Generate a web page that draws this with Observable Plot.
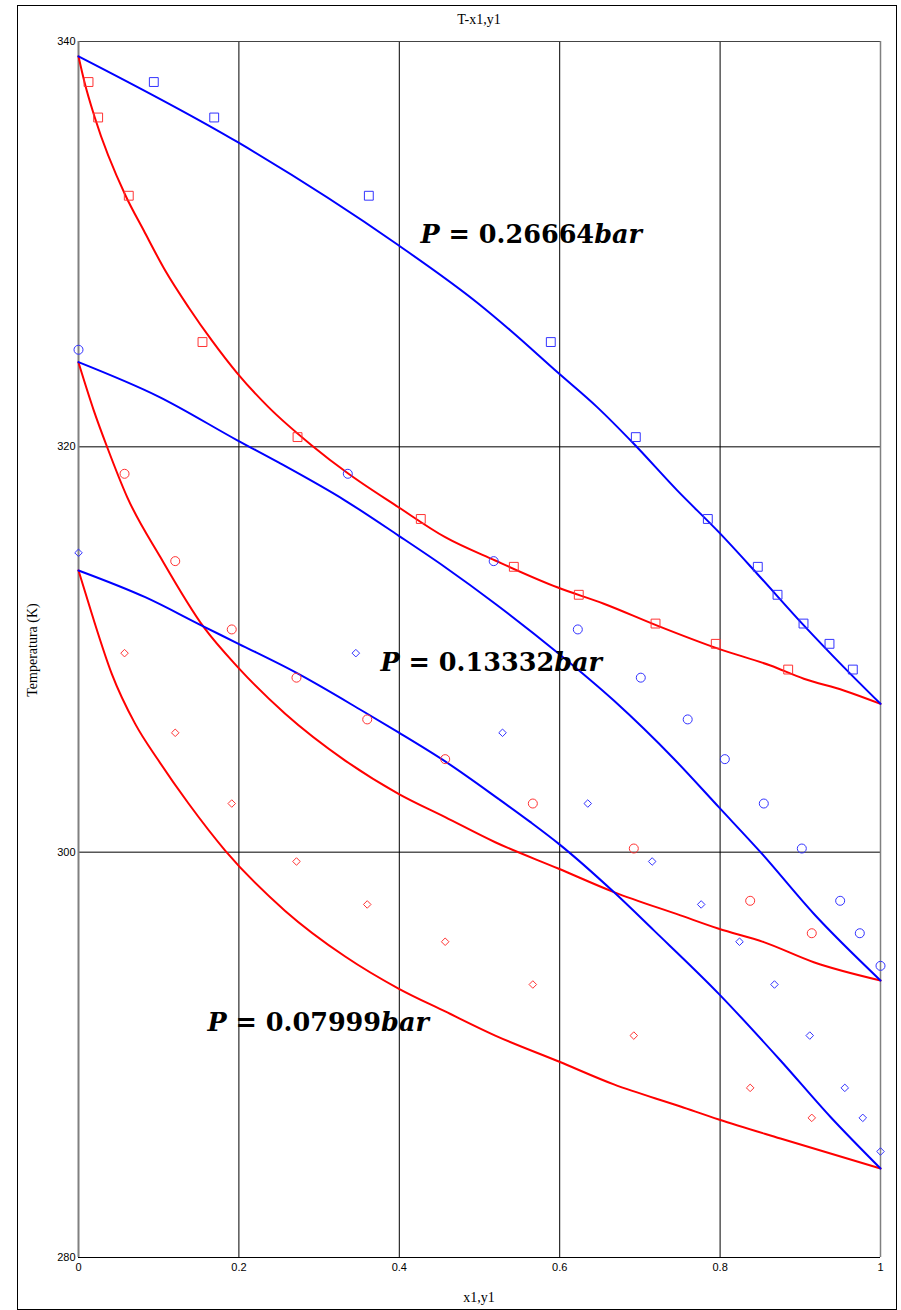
<!DOCTYPE html>
<html><head><meta charset="utf-8">
<script src="https://cdn.jsdelivr.net/npm/d3@7"></script>
<script src="https://cdn.jsdelivr.net/npm/@observablehq/plot@0.6"></script>
<style>
body{margin:0;background:#fff;}
#wrap{position:relative;width:901px;height:1310px;overflow:hidden;background:#fff;}
#frame{position:absolute;left:17px;top:5px;width:880px;height:1305px;border:1px solid #000;box-sizing:border-box;}
.lbl{position:absolute;font:14px "Liberation Serif","Times New Roman",serif;color:#000;white-space:nowrap;}
#title{top:12px;left:78px;width:802px;text-align:center;}
#xlabel{top:1290px;left:78px;width:802px;text-align:center;}
#ylabel{left:33px;top:650px;transform:translate(-50%,-50%) rotate(-90deg);}
#chart{position:absolute;left:0;top:0;}
</style></head><body>
<div id="wrap"><div id="frame"></div><div id="chart"></div>
<div id="title" class="lbl">T-x1,y1</div>
<div id="xlabel" class="lbl">x1,y1</div>
<div id="ylabel" class="lbl">Temperatura (K)</div>
</div>
<script>
// ---------- data ----------
const xTicks = [0, 0.2, 0.4, 0.6, 0.8, 1];
const yTicks = [280, 300, 320, 340];
const gridX = [0.2, 0.4, 0.6, 0.8];
const gridY = [300, 320];
const pressures = ["0.26664", "0.13332", "0.07999"];
const annotX = [0.4264, 0.3766, 0.1608];
const annotT = [330.08, 308.96, 291.2];

// P = 0.26664 bar : experimental (squares)
const sqT  = [338.0, 336.25, 332.39, 325.17, 320.48, 316.44, 314.08, 312.70, 311.28, 310.28, 309.01];
const sqX1 = [0.0125, 0.0245, 0.0627, 0.1546, 0.2731, 0.4268, 0.5428, 0.6238, 0.7195, 0.7946, 0.8849];
const sqY1 = [0.0939, 0.1692, 0.3620, 0.5889, 0.6949, 0.7847, 0.8470, 0.8716, 0.9040, 0.9364, 0.9655];

// P = 0.13332 bar : experimental (circles)
const ciTx = [318.67, 314.36, 310.99, 308.61, 306.55, 304.59, 302.40, 300.18, 297.60, 296.00];
const ciX1 = [0.0574, 0.1206, 0.1911, 0.2718, 0.3600, 0.4572, 0.5665, 0.6924, 0.8375, 0.9143];
const ciTy = [324.79, 318.67, 314.36, 310.99, 308.61, 306.55, 304.59, 302.40, 300.18, 297.60, 296.00, 294.39];
const ciY1 = [0, 0.3358, 0.5177, 0.6226, 0.7011, 0.7596, 0.8059, 0.8545, 0.9019, 0.9497, 0.9742, 1];

// P = 0.07999 bar : experimental (diamonds)
const diTx = [309.82, 305.89, 302.40, 299.54, 297.42, 295.58, 293.47, 290.95, 288.37, 286.89];
const diX1 = [0.0574, 0.1206, 0.1911, 0.2718, 0.3600, 0.4572, 0.5665, 0.6924, 0.8375, 0.9143];
const diTy = [314.77, 309.82, 305.89, 302.40, 299.54, 297.42, 295.58, 293.47, 290.95, 288.37, 286.89, 285.23];
const diY1 = [0, 0.3458, 0.5287, 0.6350, 0.7153, 0.7764, 0.8242, 0.8678, 0.9118, 0.9555, 0.9779, 1];

// model curves (dew = vapour y1, bubble = liquid x1)
const dew1X = [0, 0.1986, 0.3981, 0.4988, 0.5387, 0.5969, 0.6467, 0.6924, 0.7465, 0.7984, 0.8462, 0.9044, 0.9542, 1];
const dew1T = [339.27, 335.03, 329.97, 327.06, 325.74, 323.69, 321.96, 320.15, 317.85, 315.79, 313.74, 311.19, 309.13, 307.32];
const bub1X = [0, 0.0075, 0.0203, 0.0586, 0.0814, 0.1081, 0.1372, 0.1662, 0.1986, 0.2369, 0.2909, 0.3367, 0.3990, 0.4572, 0.5196, 0.5969, 0.6550, 0.7216, 0.7984, 0.8628, 0.9044, 0.9542, 1];
const bub1T = [339.26, 337.99, 336.25, 332.40, 330.67, 328.70, 326.89, 325.25, 323.60, 321.96, 320.07, 318.67, 317.02, 315.54, 314.39, 313.07, 312.26, 311.18, 310.03, 309.21, 308.56, 307.98, 307.32];

const dew2X = [0, 0.0998, 0.1986, 0.2494, 0.3325, 0.3990, 0.4572, 0.5196, 0.5989, 0.6675, 0.7423, 0.7984, 0.8504, 0.9168, 1];
const dew2T = [324.18, 322.48, 320.31, 319.23, 317.35, 315.62, 314.06, 312.26, 309.79, 307.48, 304.61, 302.22, 300.00, 296.96, 293.67];
const bub2X = [0, 0.0191, 0.0358, 0.0607, 0.1022, 0.1562, 0.1986, 0.2577, 0.3325, 0.3990, 0.4572, 0.5196, 0.5989, 0.6675, 0.7506, 0.7984, 0.8545, 0.9168, 1];
const bub2T = [324.16, 321.79, 319.98, 317.52, 314.55, 311.10, 309.13, 306.83, 304.52, 302.88, 301.73, 300.49, 299.18, 298.03, 296.88, 296.22, 295.56, 294.57, 293.67];

const dew3X = [0, 0.0832, 0.1537, 0.1995, 0.2702, 0.3532, 0.3990, 0.4572, 0.5237, 0.5636, 0.5989, 0.6675, 0.7174, 0.7984, 0.8753, 0.9377, 1];
const dew3T = [313.90, 312.58, 311.18, 310.28, 308.88, 306.99, 305.91, 304.48, 302.63, 301.48, 300.41, 298.03, 296.14, 293.01, 289.72, 286.93, 284.39];
const bub3X = [0, 0.0166, 0.0415, 0.0707, 0.0998, 0.1372, 0.1829, 0.2577, 0.3325, 0.3990, 0.4572, 0.5196, 0.5989, 0.6675, 0.7506, 0.7984, 0.8753, 1];
const bub3T = [313.90, 311.76, 308.80, 306.33, 304.52, 302.40, 300.08, 297.10, 294.85, 293.27, 292.14, 290.95, 289.67, 288.54, 287.45, 286.81, 285.87, 284.39];

// ---------- build tables ----------
const rows = (xs, ts) => xs.map((x, i) => ({x, t: ts[i]}));
const annot = pressures.map((p, i) => ({p, x: annotX[i], t: annotT[i]}));

const BLUE = "#0000ff", RED = "#ff0000";
const MBLUE = "#3333ff", MRED = "#ff3333";

const lineOpts = (c) => ({x: "x", y: "t", stroke: c, strokeWidth: 2, curve: "monotone-x"});
const dotOpts = (c, sym, r) => ({x: "x", y: "t", stroke: c, fill: "none", strokeWidth: 1, symbol: sym, r});

const chart = Plot.plot({
  width: 901,
  height: 1310,
  marginLeft: 78,
  marginRight: 21,
  marginTop: 41,
  marginBottom: 53,
  style: {fontFamily: "'Liberation Sans', Arial, sans-serif", fontSize: "11px", background: "transparent", overflow: "visible"},
  x: {domain: [0, 1]},
  y: {domain: [280, 340]},
  marks: [
    Plot.ruleX(gridX, {stroke: "#000", strokeWidth: 1}),
    Plot.ruleY(gridY, {stroke: "#000", strokeWidth: 1}),
    Plot.ruleY([340], {stroke: "#444", strokeWidth: 1}),
    Plot.ruleY([280], {stroke: "#000", strokeWidth: 1}),
    Plot.ruleX([0], {stroke: "#808080", strokeWidth: 2}),
    Plot.ruleX([1], {stroke: "#808080", strokeWidth: 1.5}),
    Plot.axisY({ticks: yTicks, tickSize: 0, tickPadding: 3, label: null, tickFormat: d => String(d)}),
    Plot.axisX({ticks: xTicks, tickSize: 0, tickPadding: 6, label: null, tickFormat: d => String(d)}),

    Plot.line(rows(bub1X, bub1T), lineOpts(RED)),
    Plot.line(rows(dew1X, dew1T), lineOpts(BLUE)),
    Plot.line(rows(bub2X, bub2T), lineOpts(RED)),
    Plot.line(rows(dew2X, dew2T), lineOpts(BLUE)),
    Plot.line(rows(bub3X, bub3T), lineOpts(RED)),
    Plot.line(rows(dew3X, dew3T), lineOpts(BLUE)),

    Plot.dot(rows(sqX1, sqT), dotOpts(MRED, "square", 5)),
    Plot.dot(rows(sqY1, sqT), dotOpts(MBLUE, "square", 5)),
    Plot.dot(rows(ciX1, ciTx), dotOpts(MRED, "circle", 4.5)),
    Plot.dot(rows(ciY1, ciTy), dotOpts(MBLUE, "circle", 4.5)),
    Plot.dot(rows(diX1, diTx), dotOpts(MRED, "diamond2", 3.4)),
    Plot.dot(rows(diY1, diTy), dotOpts(MBLUE, "diamond2", 3.4)),

    Plot.text(annot, {
      x: "x", y: "t", text: d => `P = ${d.p}bar`,
      textAnchor: "start", lineAnchor: "bottom",
      fontSize: 25.5, fontWeight: "bold", fontFamily: "'DejaVu Serif', serif",
      fill: "#000"
    })
  ]
});

document.getElementById("chart").appendChild(chart);

// italic P and "bar", upright number
d3.select(chart).selectAll("text").each(function () {
  const s = this.textContent;
  const m = s.match(/^P = (.*)bar$/);
  if (!m) return;
  const el = d3.select(this);
  el.text(null);
  el.append("tspan").style("font-style", "italic").text("P");
  el.append("tspan").text(" = " + m[1]);
  el.append("tspan").style("font-style", "italic").text("bar");
});
</script>
</body></html>
